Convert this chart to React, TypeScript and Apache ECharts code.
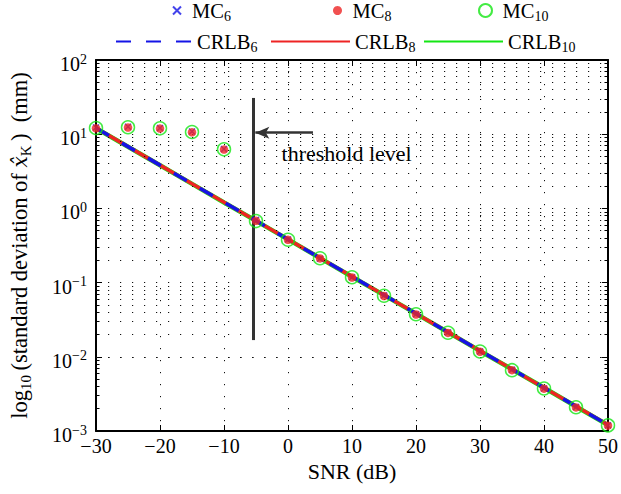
import React, { useEffect, useRef } from "react";
import * as echarts from "echarts";

// ---------- data ----------
const snr = [-30, -25, -20, -15, -10, -5, 0, 5, 10, 15, 20, 25, 30, 35, 40, 45, 50];

const crlb6 = [12.1, 6.8, 3.83, 2.15, 1.21, 0.68, 0.383, 0.215, 0.121, 0.068, 0.0383, 0.0215, 0.0121, 0.0068, 0.00383, 0.00215, 0.00121];
const crlb8 = [12.1, 6.8, 3.83, 2.15, 1.21, 0.68, 0.383, 0.215, 0.121, 0.068, 0.0383, 0.0215, 0.0121, 0.0068, 0.00383, 0.00215, 0.00121];
const crlb10 = [12.0, 6.78, 3.82, 2.14, 1.2, 0.678, 0.382, 0.214, 0.12, 0.0678, 0.0382, 0.0214, 0.012, 0.00678, 0.00382, 0.00214, 0.0012];

const mc6 = [12.3, 12.6, 12.1, 10.9, 6.3, 0.7, 0.38, 0.21, 0.118, 0.067, 0.0375, 0.0212, 0.0118, 0.0067, 0.00375, 0.0021, 0.00119];
const mc8 = [12.0, 12.3, 11.9, 10.6, 6.2, 0.68, 0.377, 0.212, 0.117, 0.066, 0.0372, 0.021, 0.0117, 0.0066, 0.00372, 0.00208, 0.00118];
const mc10 = [12.1, 12.4, 12.0, 10.7, 6.25, 0.675, 0.378, 0.213, 0.118, 0.0665, 0.0374, 0.0211, 0.0118, 0.0066, 0.00374, 0.00209, 0.00119];

const xTicks = { min: -30, max: 50, interval: 10 };
const yRange = { min: 0.001, max: 100 };
const decades = [0.001, 0.01, 0.1, 1, 10];
const minorMultipliers = [2, 3, 4, 5, 6, 7, 8, 9];

// threshold annotation (data coordinates)
const thresholdSNR = -5.4;
const thresholdTop = 30.8;
const thresholdBottom = 0.0168;
const arrowFromSNR = 3.9;
const arrowToSNR = -5.1;
const arrowLevel = 10.47;
const labelSNR = -1.0;
const labelLevel = 5.5;
const thresholdText = "threshold level";

// ---------- styles ----------
const FONT = "Liberation Serif";
const BLUE = "#1414e6";
const RED = "#ee2424";
const GREEN = "#14e614";
const dotted = { type: [1.2, 10.8] as any, width: 1, color: "#111" };

const subNames: Record<string, [string, string]> = {
  MC6: ["MC", "6"],
  MC8: ["MC", "8"],
  MC10: ["MC", "10"],
  CRLB6: ["CRLB", "6"],
  CRLB8: ["CRLB", "8"],
  CRLB10: ["CRLB", "10"],
};

const legendRich = {
  a: { fontFamily: FONT, fontSize: 20.5, color: "#000", lineHeight: 26 },
  s: { fontFamily: FONT, fontSize: 14, color: "#000", lineHeight: 14, verticalAlign: "bottom" },
};

function makeLegend(name: string, left: number, top: number, w: number, h: number, hideSymbol: boolean) {
  const l: any = {
    data: [name],
    left,
    top,
    itemWidth: w,
    itemHeight: h,
    padding: 0,
    selectedMode: false,
    formatter: (n: string) => `{a|${subNames[n][0]}}{s|${subNames[n][1]}}`,
    textStyle: { fontFamily: FONT, fontSize: 20.5, color: "#000", rich: legendRich },
  };
  if (hideSymbol) l.itemStyle = { opacity: 0 };
  return l;
}

export default function App() {
  const ref = useRef<HTMLDivElement>(null);
  useEffect(() => {
    if (!ref.current) return;
    const chart = echarts.init(ref.current, undefined, { renderer: "svg" });

    const minorValues: number[] = [];
    decades.forEach((d) => minorMultipliers.forEach((m) => minorValues.push(d * m)));

    const pairs = (arr: number[]) => snr.map((x, i) => [x, arr[i]]);
    const axisLine = { onZero: false, lineStyle: { color: "#000", width: 2 } };
    const tick = { inside: true, length: 6, lineStyle: { color: "#000", width: 1 } };

    const option: any = {
      animation: false,
      backgroundColor: "#fff",
      textStyle: { fontFamily: FONT },
      grid: { left: 89, right: 11, top: 60, bottom: 63, containLabel: false },
      legend: [
        makeLegend("MC6", 172, 0, 20, 8, false),
        makeLegend("MC8", 333, 0, 20, 9, false),
        makeLegend("MC10", 478, 0, 24, 13, false),
        makeLegend("CRLB6", 115, 31, 76, 4, true),
        makeLegend("CRLB8", 270, 31, 79, 4, true),
        makeLegend("CRLB10", 423, 31, 79, 4, true),
      ],
      xAxis: [
        {
          type: "value",
          min: xTicks.min,
          max: xTicks.max,
          interval: xTicks.interval,
          position: "bottom",
          name: "SNR (dB)",
          nameLocation: "middle",
          nameGap: 28,
          nameTextStyle: { fontFamily: FONT, fontSize: 22, color: "#000" },
          axisLine,
          axisTick: tick,
          axisLabel: {
            fontFamily: FONT,
            fontSize: 20,
            color: "#000",
            margin: 5,
            formatter: (v: number) => String(v).replace("-", "\u2212"),
          },
          splitLine: { show: true, lineStyle: dotted },
        },
        {
          type: "value",
          min: xTicks.min,
          max: xTicks.max,
          interval: xTicks.interval,
          position: "top",
          axisLine,
          axisTick: tick,
          axisLabel: { show: false },
          splitLine: { show: false },
        },
      ],
      yAxis: [
        {
          type: "log",
          logBase: 10,
          min: yRange.min,
          max: yRange.max,
          position: "left",
          name:
            "{t|log}{sub|10}{t|\u2009(standard deviation of }{it|x\u0302}{sub|K}{t|\u2009)  (mm)}",
          nameLocation: "middle",
          nameGap: 63,
          nameTextStyle: {
            fontFamily: FONT,
            fontSize: 22.5,
            color: "#000",
            rich: {
              t: { fontFamily: FONT, fontSize: 22.5, color: "#000", lineHeight: 27 },
              it: { fontFamily: "DejaVu Serif", fontStyle: "italic", fontSize: 20, color: "#000", lineHeight: 27 },
              sub: { fontFamily: FONT, fontSize: 15, color: "#000", lineHeight: 15, verticalAlign: "bottom" },
            },
          },
          axisLine,
          axisTick: tick,
          axisLabel: {
            margin: 9,
            padding: [8, 0, 0, 0],
            formatter: (v: number) => {
              const e = Math.round(Math.log10(v));
              return `{b|10}{p|${String(e).replace("-", "\u2212")}}`;
            },
            rich: {
              b: { fontFamily: FONT, fontSize: 20, color: "#000", lineHeight: 24 },
              p: { fontFamily: FONT, fontSize: 14, color: "#000", lineHeight: 14, verticalAlign: "top" },
            },
          },
          splitLine: { show: true, lineStyle: dotted },
        },
        {
          type: "log",
          logBase: 10,
          min: yRange.min,
          max: yRange.max,
          position: "right",
          axisLine,
          axisTick: tick,
          axisLabel: { show: false },
          splitLine: { show: false },
        },
      ],
      series: [
        {
          name: "grid-minor",
          type: "line",
          data: [],
          silent: true,
          z: 0,
          markLine: {
            silent: true,
            symbol: "none",
            label: { show: false },
            lineStyle: dotted,
            data: minorValues.map((v) => ({ yAxis: v })),
          },
        },
        {
          name: "ticks-minor",
          type: "line",
          data: [],
          silent: true,
          z: 1,
          markLine: {
            silent: true,
            symbol: "none",
            label: { show: false },
            lineStyle: { type: "solid", width: 1, color: "#000" },
            data: [
              ...minorValues.map((v) => [{ coord: [xTicks.min, v] }, { coord: [xTicks.min + 0.55, v] }]),
              ...minorValues.map((v) => [{ coord: [xTicks.max - 0.55, v] }, { coord: [xTicks.max, v] }]),
            ],
          },
        },
        {
          name: "threshold",
          type: "line",
          data: [],
          silent: true,
          z: 2,
          markLine: {
            silent: true,
            label: { show: false },
            symbolSize: [9, 14],
            data: [
              [
                { coord: [thresholdSNR, thresholdTop], symbol: "none", lineStyle: { color: "#333", width: 3, type: "solid" } },
                { coord: [thresholdSNR, thresholdBottom], symbol: "none" },
              ],
              [
                { coord: [arrowFromSNR, arrowLevel], symbol: "none", lineStyle: { color: "#333", width: 2.5, type: "solid" } },
                { coord: [arrowToSNR, arrowLevel], symbol: "arrow" },
              ],
            ],
          },
          markPoint: {
            silent: true,
            symbol: "circle",
            symbolSize: 0,
            data: [{ coord: [labelSNR, labelLevel], value: thresholdText }],
            label: {
              show: true,
              position: "right",
              distance: 0,
              formatter: thresholdText,
              fontFamily: FONT,
              fontSize: 22,
              color: "#000",
            },
          },
        },
        {
          name: "CRLB10",
          type: "line",
          data: pairs(crlb10),
          symbol: "none",
          z: 3,
          lineStyle: { color: GREEN, width: 4.5 },
          itemStyle: { color: GREEN },
        },
        {
          name: "CRLB8",
          type: "line",
          data: pairs(crlb8),
          symbol: "none",
          z: 4,
          lineStyle: { color: RED, width: 3.5 },
          itemStyle: { color: RED },
        },
        {
          name: "CRLB6",
          type: "line",
          data: pairs(crlb6),
          symbol: "none",
          z: 5,
          lineStyle: { color: BLUE, width: 3.5, type: [15, 15] },
          itemStyle: { color: BLUE },
        },
        {
          name: "MC6",
          type: "scatter",
          data: pairs(mc6),
          symbol: "path://M0,0L10,10M10,0L0,10",
          symbolSize: 6,
          z: 6,
          itemStyle: { color: "transparent", borderColor: BLUE, borderWidth: 1.5 },
        },
        {
          name: "MC8",
          type: "scatter",
          data: pairs(mc8),
          symbol: "circle",
          symbolSize: 8.5,
          z: 7,
          itemStyle: { color: RED },
        },
        {
          name: "MC10",
          type: "scatter",
          data: pairs(mc10),
          symbol: "circle",
          symbolSize: 13,
          z: 8,
          itemStyle: { color: "transparent", borderColor: GREEN, borderWidth: 1.5 },
        },
      ],
    };
    chart.setOption(option);
    return () => chart.dispose();
  }, []);

  return (
    <div
      ref={ref}
      style={{ position: "fixed", left: 0, top: 0, width: 621, height: 494, background: "#fff" }}
    />
  );
}
